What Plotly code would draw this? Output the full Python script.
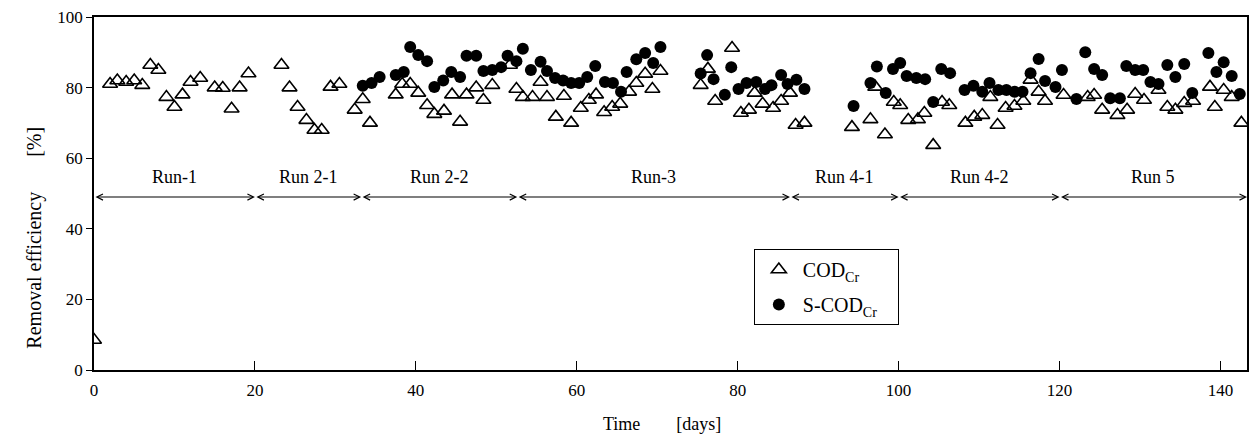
import plotly.graph_objects as go

# ---------------- data ----------------
cod_x = [0, 2.0, 2.9, 4.0, 5.0, 6.0, 7.0, 8.0, 9.0, 10.0, 11.0, 12.0, 13.2, 15.0, 16.0, 17.1, 18.1, 19.2,
         23.3, 24.3, 25.3, 26.4, 27.4, 28.3, 29.4, 30.5, 32.4, 33.4, 34.3,
         37.5, 38.3, 39.3, 40.3, 41.4, 42.3, 43.5, 44.5, 45.5, 46.3, 47.5, 48.4, 49.5, 51.7,
         52.5, 53.3, 54.5, 55.5, 56.3, 57.4, 58.4, 59.3, 60.5, 61.5, 62.4, 63.4, 64.4, 65.4,
         66.5, 67.4, 68.5, 69.4, 70.4, 75.4, 76.3, 77.2, 79.3, 80.4, 81.4, 82.1, 83.1, 84.4,
         85.4, 86.5, 87.2, 88.3,
         94.2, 96.5, 97.1, 98.3, 99.4, 100.2, 101.2, 102.4, 103.2, 104.3, 105.4, 106.3,
         108.3, 109.4, 110.4, 111.4, 112.3, 113.3, 114.4, 115.5, 116.4, 117.4, 118.2,
         120.5, 123.5, 124.3, 125.3, 127.2, 128.4, 129.4, 130.5, 132.3, 133.4, 134.4, 135.5,
         136.6, 138.7, 139.3, 140.4, 141.4, 142.6]
cod_y = [8.5, 81, 82, 81.6, 82, 80.7, 86.4, 85, 77.3, 74.5, 78, 81.6, 82.7, 80, 79.9, 74, 80, 84,
         86.4, 80, 74.5, 70.8, 68, 68, 80.2, 81, 73.7, 76.7, 70,
         78, 81, 81, 78.5, 75, 72.5, 73.4, 78, 70.3, 78, 80, 76.5, 80.7, 86.4,
         79.6, 77.3, 77.3, 81.6, 77.3, 71.7, 77.6, 70, 74.2, 76.5, 78, 73, 74.5, 75.4,
         78.8, 81.3, 83.9, 79.6, 84.7, 80.7, 85.3, 76.2, 91.2, 72.8, 73.7, 78.5, 75.4, 74.2,
         76.2, 78.5, 69.4, 70,
         68.8, 71, 80.2, 66.7, 75.9, 75, 70.8, 71, 72.8, 63.7, 75.9, 75,
         70, 71.7, 72.2, 77.3, 69.4, 74.2, 74.8, 76.2, 82.2, 78.8, 76.2,
         77.9, 77.3, 77.9, 73.7, 72.2, 73.7, 78.2, 76.5, 79.3, 74.5, 73.7, 75.6,
         76.2, 80.2, 74.5, 79.3, 77.3, 70]

scod_x = [33.4, 34.5, 35.5, 37.5, 38.5, 39.3, 40.3, 41.4, 42.3, 43.4, 44.4, 45.5, 46.3, 47.5,
          48.4, 49.5, 50.6, 51.4, 52.5, 53.3, 54.3, 55.5, 56.3, 57.3, 58.3, 59.3, 60.3, 61.3,
          62.3, 63.5, 64.5, 65.5, 66.2, 67.4, 68.5, 69.5, 70.4,
          75.4, 76.2, 77.0, 78.4, 79.2, 80.1, 81.1, 82.3, 83.4, 84.2, 85.4, 86.2, 87.3, 88.3,
          94.4, 96.5, 97.3, 98.4, 99.3, 100.2, 101.0, 102.2, 103.3, 104.3, 105.3, 106.4,
          108.2, 109.3, 110.4, 111.3, 112.4, 113.4, 114.4, 115.4, 116.4, 117.4, 118.2, 119.5,
          120.3, 122.1, 123.2, 124.3, 125.3, 126.3, 127.5, 128.3, 129.4, 130.4, 131.3, 132.3,
          133.4, 134.4, 135.5, 136.5, 138.5, 139.5, 140.4, 141.4, 142.4]
scod_y = [80.5, 81.3, 83, 83.6, 84.4, 91.5, 89.2, 87.5, 80.2, 82, 84.4, 83, 89, 89,
          84.7, 85, 85.8, 89, 87.5, 91, 85, 87.3, 84.7, 82.7, 82, 81.3, 81.3, 83,
          86.1, 81.6, 81.3, 78.8, 84.4, 88, 89.8, 87, 91.5,
          84, 89.2, 82.4, 78, 85.8, 79.6, 81.3, 81.6, 79.6, 80.7, 83.6, 81, 82.2, 79.6,
          74.8, 81.3, 86, 78.5, 85.3, 87, 83.3, 82.7, 82.4, 75.9, 85.3, 84.1,
          79.3, 80.5, 78.8, 81.3, 79.3, 79.3, 78.8, 78.8, 84.1, 88.1, 81.9, 80.2,
          85, 76.8, 90, 85.3, 83.6, 77, 77, 86.1, 85, 85, 81.6, 81,
          86.4, 83, 86.7, 78.5, 89.8, 84.4, 87.2, 83.3, 78.2]

run_names = ["Run-1", "Run 2-1", "Run 2-2", "Run-3", "Run 4-1", "Run 4-2", "Run 5"]
run_bounds = [0, 20, 33.2, 52.6, 86.5, 100, 120, 143.3]
run_arrow_level = 49
run_label_level = 51.3

x_ticks = [0, 20, 40, 60, 80, 100, 120, 140]
y_ticks = [0, 20, 40, 60, 80, 100]

FONT = "Liberation Serif, Times New Roman, serif"

fig = go.Figure()
fig.add_trace(go.Scatter(
    x=cod_x, y=cod_y, mode="markers", name="COD<sub>Cr</sub>",
    marker=dict(symbol="triangle-up-open", size=13, color="black", line=dict(width=1.6, color="black")),
    legendgroup="a"))
fig.add_trace(go.Scatter(
    x=scod_x, y=scod_y, mode="markers", name="S-COD<sub>Cr</sub>\u00a0\u00a0\u00a0",
    marker=dict(symbol="circle", size=12, color="black", line=dict(width=0)),
    legendgroup="b"))

# run arrows and labels
for i, name in enumerate(run_names):
    a, b = run_bounds[i], run_bounds[i + 1]
    fig.add_annotation(x=b, y=run_arrow_level, ax=a, ay=run_arrow_level, xref="x", yref="y",
                       axref="x", ayref="y", text="", showarrow=True, arrowside="end+start",
                       arrowhead=5, startarrowhead=5, arrowsize=1.1, startarrowsize=1.1,
                       arrowwidth=1.1, arrowcolor="black", standoff=0, startstandoff=0)
    fig.add_annotation(x=(a + b) / 2, y=run_label_level, xref="x", yref="y", text=name,
                       showarrow=False, yanchor="bottom",
                       font=dict(family=FONT, size=18, color="black"))

# axis titles
fig.add_annotation(x=(20 - 94) / 1155, y=(370 - 238) / 353, xref="paper", yref="paper",
                   text="Removal efficiency\u00a0\u00a0\u00a0\u00a0\u00a0\u00a0\u00a0[%]", textangle=-90,
                   showarrow=False, font=dict(family=FONT, size=20, color="black"))
fig.add_annotation(x=(663 - 94) / 1155, y=(370 - 436) / 353, xref="paper", yref="paper",
                   text="Time\u00a0\u00a0\u00a0\u00a0\u00a0\u00a0\u00a0\u00a0[days]",
                   showarrow=False, font=dict(family=FONT, size=18, color="black"))

fig.update_xaxes(range=[0, 143.3], tickvals=x_ticks, ticks="inside", ticklen=9, tickwidth=1.3,
                 tickcolor="black", showline=True, linecolor="black", linewidth=1.5, mirror=True,
                 showgrid=False, zeroline=False, ticklabelstandoff=4,
                 tickfont=dict(family=FONT, size=17, color="black"))
fig.update_yaxes(range=[0, 100], tickvals=y_ticks, ticks="outside", ticklen=6, tickwidth=1.3,
                 tickcolor="black", showline=True, linecolor="black", linewidth=1.5, mirror=True,
                 showgrid=False, zeroline=False,
                 tickfont=dict(family=FONT, size=17, color="black"))

fig.update_layout(
    width=1251, height=448,
    margin=dict(l=94, r=2, t=17, b=78),
    plot_bgcolor="white", paper_bgcolor="white",
    showlegend=True,
    legend=dict(x=(755 - 94) / 1155, y=(370 - 249) / 353, xanchor="left", yanchor="top",
                bgcolor="white", bordercolor="black", borderwidth=1,
                font=dict(family=FONT, size=20, color="black"),
                traceorder="grouped", tracegroupgap=6, itemwidth=38),
)

fig.write_html("out.html")
